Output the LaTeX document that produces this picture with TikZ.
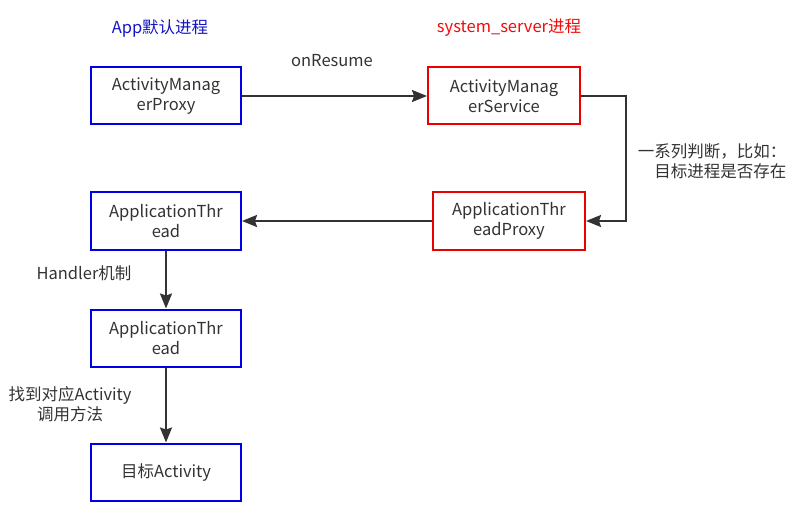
\documentclass[tikz,border=0pt]{standalone}
\usepackage{fontspec}
\setmainfont{Noto Sans CJK SC}
\usetikzlibrary{arrows.meta,positioning}
\definecolor{boxblue}{RGB}{0,0,230}
\definecolor{boxred}{RGB}{235,0,0}
\definecolor{titleblue}{RGB}{20,20,200}
\definecolor{titlered}{RGB}{240,10,10}
\definecolor{inkgray}{RGB}{51,51,51}

\begin{document}
\begin{tikzpicture}[x=1pt,y=-1pt,>={Stealth[length=15pt,width=12pt,inset=2pt]},
  every node/.style={align=center,font=\fontsize{16.5}{20}\selectfont,text=inkgray},
  appbox/.style={draw=boxblue,line width=2pt,fill=white,minimum width=150pt,minimum height=57pt,inner sep=0pt},
  srvbox/.style={draw=boxred,line width=2pt,fill=white,minimum width=152pt,minimum height=57pt,inner sep=0pt},
  conn/.style={->,draw=inkgray,line width=2pt}]
  \useasboundingbox (0,0) rectangle (799,521);
  % column titles
  \node[text=titleblue] (apptitle) at (160,28) {App默认进程};
  \node[text=titlered] (srvtitle) at (509,28) {system\_server进程};
  % boxes
  \node[appbox] (amp) at (166,96) {ActivityManag\\erProxy};
  \node[srvbox] (ams) at (504,96) {ActivityManag\\erService};
  \node[srvbox] (atp) at (509,221) {ApplicationThr\\eadProxy};
  \node[appbox] (at) at (166,221) {ApplicationThr\\ead};
  \node[appbox] (ath) at (166,338) {ApplicationThr\\ead};
  \node[appbox] (act) at (166,472) {目标Activity};
  % labels
  \node (resume) at (332,61) {onResume};
  \node[anchor=east,align=right] (judge) at (790,161) {一系列判断，比如：\\目标进程是否存在};
  \node (handler) at (84,273) {Handler机制};
  \node (find) at (70,404) {找到对应Activity\\调用方法};
  % connectors
  \draw[conn] (amp) -- (ams);
  \draw[conn] (ams.east) -- ++(45,0) |- (atp);
  \draw[conn] (atp) -- (at);
  \draw[conn] (at) -- (ath);
  \draw[conn] (ath) -- (act);
\end{tikzpicture}
\end{document}
